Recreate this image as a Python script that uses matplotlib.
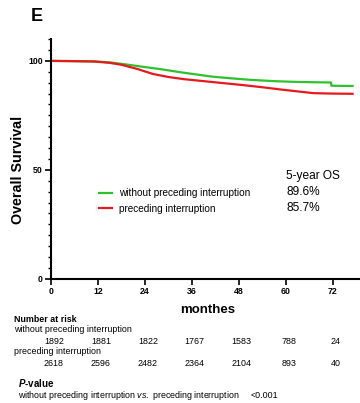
import matplotlib.pyplot as plt
from matplotlib.ticker import MultipleLocator
import matplotlib.transforms as mtransforms

plt.rcParams['font.family'] = ['Liberation Sans', 'DejaVu Sans']
plt.rcParams['mathtext.fontset'] = 'custom'
plt.rcParams['mathtext.rm'] = 'Liberation Sans'
plt.rcParams['mathtext.it'] = 'Liberation Sans:italic'
plt.rcParams['mathtext.bf'] = 'Liberation Sans:bold'
plt.rcParams['mathtext.bfit'] = 'Liberation Sans:italic:bold'

# survival curves (months, % surviving)
months_a = [0, 5, 11, 15, 19, 23, 28, 33, 37, 41, 46, 51, 57, 62, 67, 71.5, 71.6, 77]
surv_a = [100, 99.9, 99.8, 99.3, 98.4, 97.4, 96.2, 94.8, 93.8, 92.8, 92.0, 91.3, 90.7, 90.4, 90.2, 90.1, 88.6, 88.5]
months_b = [0, 5, 11, 15, 18, 22, 26, 30, 34, 39, 44, 49, 54, 59, 64, 67, 72, 77]
surv_b = [100, 99.9, 99.7, 99.1, 98.2, 96.3, 94.0, 92.6, 91.6, 90.7, 89.8, 88.9, 87.9, 86.8, 85.8, 85.2, 85.0, 84.9]

labels = ['without preceding interruption', 'preceding interruption']
os5 = ['89.6%', '85.7%']
ticks = [0, 12, 24, 36, 48, 60, 72]
risk_a = [1892, 1881, 1822, 1767, 1583, 788, 24]
risk_b = [2618, 2596, 2482, 2364, 2104, 893, 40]

green = '#2cc22c'
red = '#e8191c'

fig = plt.figure(figsize=(3.6, 4.03), dpi=100)
ax = fig.add_axes([0.142, 0.308, 0.87, 0.595])
ax.plot(months_a, surv_a, color=green, lw=1.6, label=labels[0])
ax.plot(months_b, surv_b, color=red, lw=1.6, label=labels[1])

ax.set_xlim(0, 80)
ax.set_ylim(0, 110)
ax.set_xticks(ticks)
ax.set_yticks([0, 50, 100])
ax.yaxis.set_minor_locator(MultipleLocator(5))
for s in ['top', 'right']:
    ax.spines[s].set_visible(False)
for s in ['left', 'bottom']:
    ax.spines[s].set_linewidth(1.5)
ax.tick_params(axis='both', which='major', length=4, width=1.2, labelsize=6.3, pad=2)
ax.tick_params(axis='y', which='minor', length=2.5, width=1.0)
for t in ax.get_xticklabels() + ax.get_yticklabels():
    t.set_fontweight('bold')

ax.set_ylabel('Overall Survival', fontsize=10.3, fontweight='bold')
ax.yaxis.set_label_coords(-0.083, 0.454)
ax.set_xlabel('monthes', fontsize=9.5, fontweight='bold')
ax.xaxis.set_label_coords(0.5, -0.104)

leg = ax.legend(loc='upper left', bbox_to_anchor=(0.125, 0.415), frameon=False,
                fontsize=7.2, handlelength=1.3, handletextpad=0.7, labelspacing=0.55)
ax.text(0.75, 0.43, '5-year OS', transform=ax.transAxes, fontsize=8.6, va='center')
ax.text(0.75, 0.362, os5[0], transform=ax.transAxes, fontsize=8.6, va='center')
ax.text(0.75, 0.295, os5[1], transform=ax.transAxes, fontsize=8.6, va='center')

fig.text(0.085, 0.96, 'E', fontsize=13, fontweight='bold', va='center')

# number at risk table
tr = mtransforms.blended_transform_factory(ax.transData, fig.transFigure)
fs = 6.4
fig.text(0.04, 1 - 319 / 403, 'Number at risk', fontsize=fs, fontweight='bold', va='center')
fig.text(0.04, 1 - 330 / 403, labels[0], fontsize=fs, va='center')
fig.text(0.04, 1 - 352 / 403, labels[1], fontsize=fs, va='center')
for t, a, b in zip(ticks, risk_a, risk_b):
    fig.text(t + 0.7, 1 - 342 / 403, str(a), fontsize=fs, ha='center', va='center', transform=tr)
    fig.text(t + 0.7, 1 - 363 / 403, str(b), fontsize=fs, ha='center', va='center', transform=tr)

fig.text(0.05, 1 - 383 / 403, r'$\bfit{P}$' + '-value', fontsize=7, fontweight='bold', va='center')
fig.text(0.05, 1 - 396 / 403, 'without preceding interruption $\\it{vs.}$ preceding interruption',
         fontsize=fs, va='center')
fig.text(0.695, 1 - 396 / 403, '<0.001', fontsize=fs, va='center')

fig.savefig('out.png', dpi=100)
